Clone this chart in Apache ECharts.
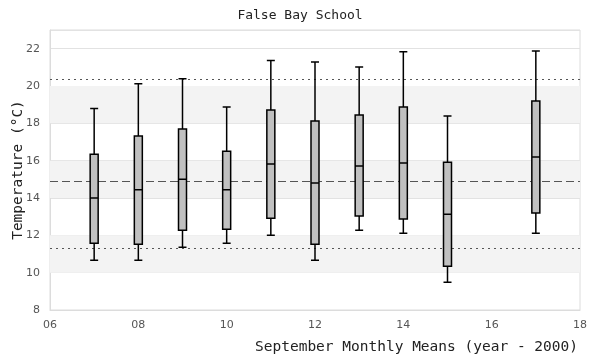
<!DOCTYPE html>
<html>
<head>
<meta charset="utf-8">
<script src="https://cdn.jsdelivr.net/npm/echarts@6/dist/echarts.min.js"></script>
<style>html,body{margin:0;padding:0;background:#fff}#c{width:600px;height:360px}</style>
</head>
<body>
<div id="c"></div>
<script>
const years   = [7, 8, 9, 10, 11, 12, 13, 14, 15, 17];
const mins    = [10.67, 10.67, 11.36, 11.58, 12.0, 10.67, 12.27, 12.11, 9.49, 12.11];
const q1s     = [11.58, 11.52, 12.27, 12.33, 12.92, 11.52, 13.03, 12.87, 10.34, 13.19];
const medians = [14.0, 14.44, 15.01, 14.44, 15.82, 14.8, 15.71, 15.87, 13.13, 16.19];
const q3s     = [16.35, 17.32, 17.69, 16.51, 18.71, 18.12, 18.45, 18.87, 15.92, 19.2];
const maxs    = [18.8, 20.12, 20.39, 18.87, 21.37, 21.29, 21.02, 21.83, 18.39, 21.88];
const refUpper = 20.38;
const refMean = 14.9;
const refLower = 11.31;
const bands = [[10, 12], [14, 16], [18, 20]];

const boxData = years.map((y, i) => [y, mins[i], q1s[i], medians[i], q3s[i], maxs[i]]);

const chart = echarts.init(document.getElementById('c'), null, {renderer: 'canvas'});
chart.setOption({
  animation: false,
  backgroundColor: '#fff',
  title: {
    text: 'False Bay School',
    left: 'center',
    top: 4,
    textStyle: {fontFamily: 'DejaVu Sans Mono', fontSize: 13, fontWeight: 'normal', color: '#222'}
  },
  grid: {left: 50, right: 20, top: 30, bottom: 50, outerBoundsMode: 'none', containLabel: false,
    show: true, borderColor: '#dcdcdc', borderWidth: 1, backgroundColor: 'transparent'},
  xAxis: {
    type: 'value',
    min: 6, max: 18, interval: 2,
    name: 'September Monthly Means (year - 2000)',
    nameLocation: 'end',
    nameGap: -2,
    nameMoveOverlap: false,
    nameTextStyle: {fontFamily: 'DejaVu Sans Mono', fontSize: 14.5, color: '#222', align: 'right', verticalAlign: 'top', padding: [30, 0, 0, 0]},
    axisLine: {show: true, lineStyle: {color: '#dcdcdc'}},
    axisTick: {show: false},
    splitLine: {show: false},
    axisLabel: {
      color: '#555', fontSize: 11, fontFamily: 'DejaVu Sans', margin: 10,
      formatter: v => (v < 10 ? '0' : '') + v
    }
  },
  yAxis: {
    type: 'value',
    min: 8, max: 23, interval: 2,
    name: 'Temperature (°C)',
    nameLocation: 'middle',
    nameGap: 24,
    nameMoveOverlap: false,
    nameTextStyle: {fontFamily: 'DejaVu Sans Mono', fontSize: 14.5, color: '#222'},
    axisLine: {show: true, lineStyle: {color: '#dcdcdc'}},
    axisTick: {show: false},
    splitLine: {show: true, lineStyle: {color: '#e2e2e2', width: 1}},
    axisLabel: {color: '#555', fontSize: 11, fontFamily: 'DejaVu Sans', margin: 10,
      formatter: v => (v > 22 ? '' : v)}
  },
  series: [{
    type: 'boxplot',
    data: boxData,
    encode: {x: 0, y: [1, 2, 3, 4, 5]},
    boxWidth: [8, 8],
    itemStyle: {color: '#c0c0c0', borderColor: '#000', borderWidth: 1.5},
    z: 5,
    markArea: {
      silent: true,
      itemStyle: {color: '#f3f3f3'},
      data: bands.map(b => [{yAxis: b[0]}, {yAxis: b[1]}])
    },
    markLine: {
      silent: true,
      symbol: 'none',
      label: {show: false},
      data: [
        {yAxis: refUpper, lineStyle: {type: [2, 4], color: '#555', width: 1}},
        {yAxis: refMean, lineStyle: {type: [8, 4], color: '#555', width: 1}},
        {yAxis: refLower, lineStyle: {type: [2, 4], color: '#555', width: 1}}
      ]
    }
  }]
});
</script>
</body>
</html>
